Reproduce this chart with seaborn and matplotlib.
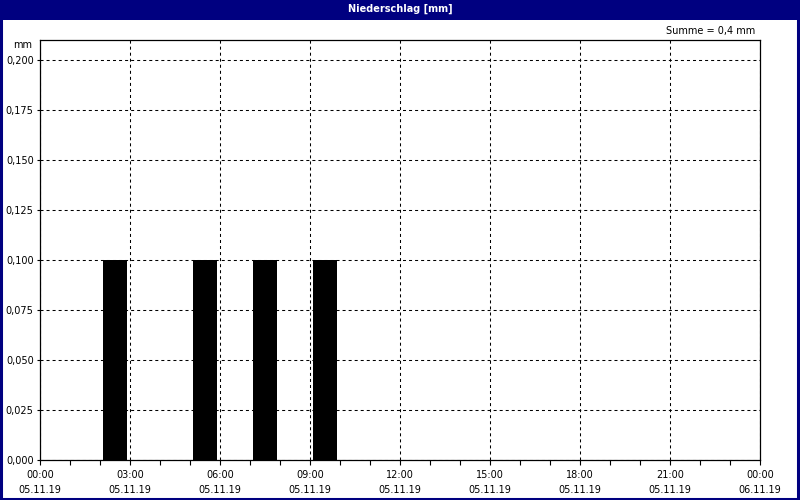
import matplotlib
matplotlib.use("Agg")
import matplotlib.pyplot as plt
from matplotlib.patches import Rectangle
from matplotlib.ticker import FixedLocator, MultipleLocator, FuncFormatter
import seaborn as sns
import pandas as pd

# hourly precipitation, 05.11.19 00:00 - 24:00
hours = list(range(24))
precip = [0, 0, 0.1, 0, 0, 0.1, 0, 0.1, 0, 0.1, 0, 0,
          0, 0, 0, 0, 0, 0, 0, 0, 0, 0, 0, 0]
tick_hours = [0, 3, 6, 9, 12, 15, 18, 21, 24]
tick_labels = ["00:00\n05.11.19", "03:00\n05.11.19", "06:00\n05.11.19",
               "09:00\n05.11.19", "12:00\n05.11.19", "15:00\n05.11.19",
               "18:00\n05.11.19", "21:00\n05.11.19", "00:00\n06.11.19"]
y_ticks = [0, 0.025, 0.05, 0.075, 0.1, 0.125, 0.15, 0.175, 0.2]
title = "Niederschlag [mm]"
total_text = "Summe = 0,4 mm"

navy = "#000080"
sns.set_style("white")
plt.rcParams["font.family"] = ["DejaVu Sans"]
plt.rcParams["font.size"] = 7
plt.rcParams["text.color"] = "black"
plt.rcParams["xtick.color"] = "black"
plt.rcParams["ytick.color"] = "black"

df = pd.DataFrame({"hour": [h + 0.5 for h in hours], "mm": precip})

fig = plt.figure(figsize=(8, 5), dpi=100)
ax = fig.add_axes([40 / 800, 40 / 500, 720 / 800, 420 / 500])

sns.barplot(data=df, x="hour", y="mm", native_scale=True, width=0.8,
            color="black", saturation=1, linewidth=0, ax=ax)

ax.set_xlim(0, 24)
ax.set_ylim(0, 0.21)
ax.xaxis.set_major_locator(FixedLocator(tick_hours))
ax.set_xticklabels(tick_labels, linespacing=1.6)
ax.xaxis.set_minor_locator(MultipleLocator(1))
ax.yaxis.set_major_locator(FixedLocator(y_ticks))
ax.yaxis.set_major_formatter(FuncFormatter(lambda v, p: f"{v:.3f}".replace(".", ",")))
ax.set_xlabel("")
ax.set_ylabel("")

ax.tick_params(axis="x", which="both", direction="out", length=3.5, width=0.8,
               color="black", pad=4, labelsize=7, bottom=True, labelcolor="black")
ax.tick_params(axis="y", direction="out", length=2.5, width=0.8, color="black",
               pad=2, labelsize=7, left=True, labelcolor="black")

ax.grid(True, which="major", color="black", linestyle=(0, (2.9, 2.9)), linewidth=0.75)
ax.set_axisbelow(False)
for s in ax.spines.values():
    s.set_visible(True)
    s.set_color("black")
    s.set_linewidth(0.9)

# window frame and title bar
fig.patches.append(Rectangle((0, 480 / 500), 1, 20 / 500, transform=fig.transFigure,
                             facecolor=navy, edgecolor="none", zorder=0))
fig.patches.append(Rectangle((0.001, 0.002), 0.997, 0.99, transform=fig.transFigure,
                             facecolor="none", edgecolor=navy, linewidth=2.2, zorder=0))
fig.text(0.5, 1 - 9 / 500, title, color="white", fontweight="bold",
         ha="center", va="center", fontsize=7)
fig.text(32 / 800, 1 - 45 / 500, "mm", ha="right", va="center", fontsize=7)
fig.text(755 / 800, 1 - 31 / 500, total_text, ha="right", va="center", fontsize=7)

fig.savefig("out.png", dpi=100)
